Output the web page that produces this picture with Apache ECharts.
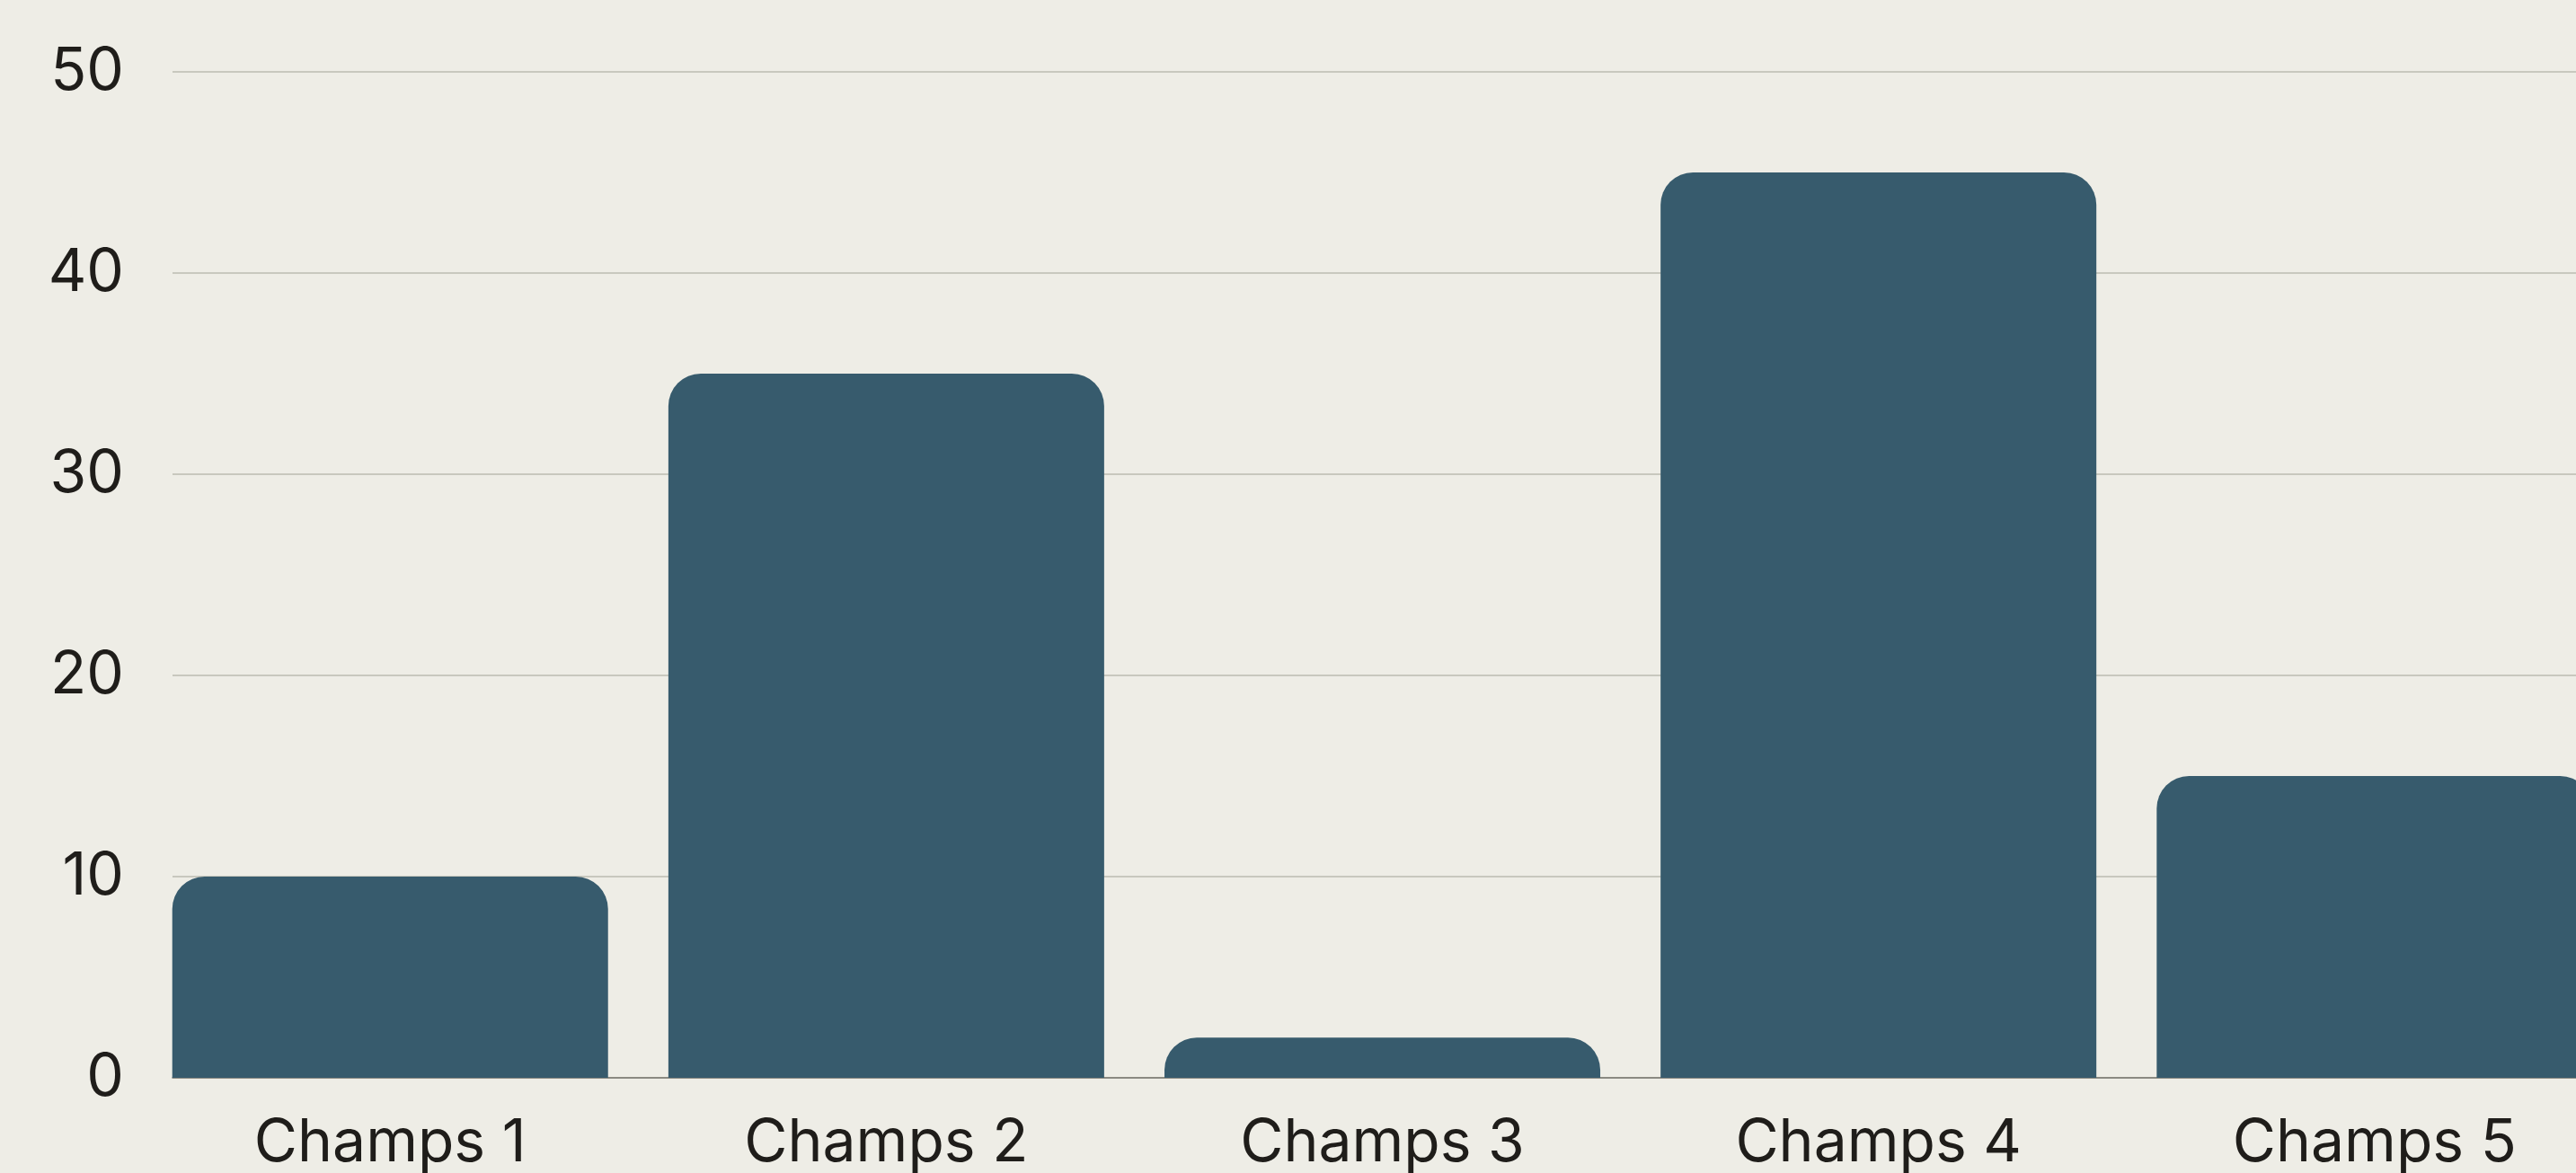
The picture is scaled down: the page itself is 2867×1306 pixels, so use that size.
<!DOCTYPE html>
<html>
<head>
<meta charset="utf-8">
<script src="https://cdn.jsdelivr.net/npm/echarts@6/dist/echarts.min.js"></script>
<style>
  html, body { margin: 0; padding: 0; background: #eeede6; }
  #chart { width: 2867px; height: 1306px; }
</style>
</head>
<body>
<div id="chart"></div>
<script>
const categories = ['Champs 1', 'Champs 2', 'Champs 3', 'Champs 4', 'Champs 5']
const values = [10, 35, 2, 45, 15]
const yTicks = [0, 10, 20, 30, 40, 50]

const chart = echarts.init(document.getElementById('chart'))

// bars sit on a value axis so the grid can start flush with the first bar
const halfBar = 0.4387
const option = {
  backgroundColor: '#eeede6',
  animation: false,
  textStyle: { fontFamily: 'Inter' },
  grid: { left: 192, right: 0, top: 80, bottom: 106, containLabel: false },
  xAxis: {
    type: 'value',
    min: -halfBar,
    max: 4.406,
    axisLine: { show: true, lineStyle: { color: '#77766f', width: 1.5 } },
    axisTick: { show: false },
    splitLine: { show: false },
    axisLabel: {
      customValues: categories.map((c, i) => i),
      formatter: v => categories[Math.round(v)] || '',
      color: '#1f1d1a',
      fontSize: 66,
      fontFamily: 'Inter',
      letterSpacing: -0.5,
      margin: 40
    }
  },
  yAxis: {
    type: 'value',
    min: yTicks[0],
    max: yTicks[yTicks.length - 1],
    interval: 10,
    axisLine: { show: false },
    axisTick: { show: false },
    axisLabel: {
      color: '#1f1d1a',
      fontSize: 66,
      fontFamily: 'Inter',
      margin: 54
    },
    splitLine: { show: true, lineStyle: { color: '#bbbbb1', width: 1.5 } }
  },
  series: [
    {
      type: 'bar',
      barWidth: 485,
      z: 3,
      itemStyle: { color: '#375b6d', borderRadius: [36, 36, 0, 0] },
      data: values.map((v, i) => [i, v])
    }
  ]
}

chart.setOption(option)
</script>
</body>
</html>
